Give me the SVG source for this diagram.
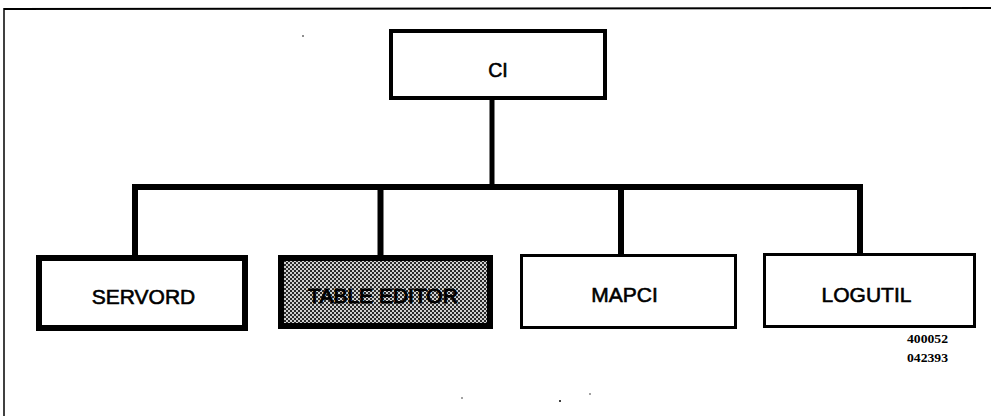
<svg xmlns="http://www.w3.org/2000/svg" width="991" height="416" viewBox="0 0 991 416">
<defs>
<pattern id="dither" x="0" y="0" width="4" height="4" patternUnits="userSpaceOnUse">
<rect width="4" height="4" fill="#d0d0d0"/>
<rect x="0" y="0" width="2" height="2" fill="#2a2a2a"/>
<rect x="2" y="2" width="2" height="2" fill="#2a2a2a"/>
</pattern>
</defs>
<style>
.box{fill:#fff;stroke:#000}
.thin{stroke-width:3}
.thick{stroke-width:6}
.lbl{font-family:"Liberation Sans",Arial,sans-serif;font-size:21px;fill:#000;text-anchor:middle;stroke:#000;stroke-width:0.6}
.num{font-family:"Liberation Serif","Times New Roman",serif;font-size:13px;font-weight:bold;fill:#000}
.conn line{stroke:#000;stroke-width:6}
</style>
<rect width="991" height="416" fill="#fff"/>
<g id="frame">
<line x1="4" y1="9" x2="991" y2="8" stroke="#000" stroke-width="2"/>
<line x1="4" y1="8" x2="4" y2="416" stroke="#000" stroke-width="1.5"/>
</g>
<g id="connectors" class="conn">
<line x1="492" y1="98" x2="492" y2="187" style="stroke-width:5"/>
<line x1="132" y1="187" x2="863" y2="187"/>
<line x1="135" y1="187" x2="135" y2="257"/>
<line x1="380.5" y1="187" x2="380.5" y2="257"/>
<line x1="621" y1="187" x2="621" y2="256"/>
<line x1="860" y1="187" x2="860" y2="255"/>
</g>
<g id="node-ci">
<rect class="box" x="391" y="31" width="214" height="67" stroke-width="4"/>
<text class="lbl" x="498" y="77" style="font-size:19.5px">CI</text>
</g>
<g id="node-servord">
<rect class="box thick" x="39" y="258" width="206" height="70"/>
<text class="lbl" x="143.5" y="304">SERVORD</text>
</g>
<g id="node-table-editor">
<rect class="box thick" x="281" y="258" width="209" height="68" style="fill:url(#dither)"/>
<text class="lbl" x="383" y="303" style="stroke-width:1">TABLE EDITOR</text>
</g>
<g id="node-mapci">
<rect class="box thin" x="521.5" y="255.5" width="214" height="72"/>
<text class="lbl" x="624.5" y="302">MAPCI</text>
</g>
<g id="node-logutil">
<rect class="box thin" x="764.5" y="254.5" width="210" height="72"/>
<text class="lbl" x="866.5" y="302">LOGUTIL</text>
</g>
<g id="ref-numbers">
<text class="num" x="907" y="343" textLength="41" lengthAdjust="spacingAndGlyphs">400052</text>
<text class="num" x="907" y="362" textLength="41" lengthAdjust="spacingAndGlyphs">042393</text>
</g>
<g id="specks" fill="#000">
<circle cx="303" cy="36" r="0.8"/>
<circle cx="462" cy="398" r="0.7"/>
<circle cx="560" cy="401" r="1"/>
<circle cx="590" cy="394" r="0.7"/>
</g>
</svg>
